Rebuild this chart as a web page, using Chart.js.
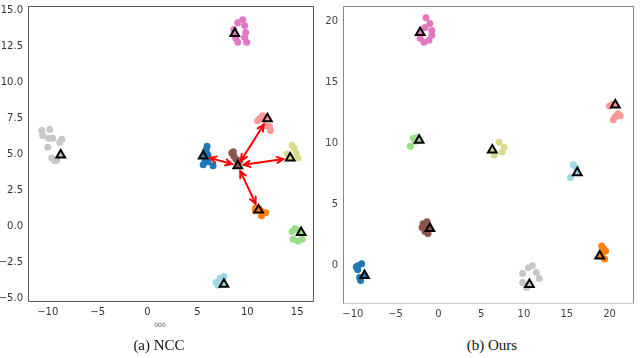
<!DOCTYPE html>
<html>
<head>
<meta charset="utf-8">
<script src="https://cdn.jsdelivr.net/npm/chart.js@4.4.0/dist/chart.umd.min.js"></script>
<style>
  html, body { margin: 0; padding: 0; background: #fff; overflow: hidden; }
  body { width: 640px; height: 358px; position: relative; }
  canvas { position: absolute; top: 0; }
  #nccChart { left: 0; }
  #oursChart { left: 320px; }
  .caption { position: absolute; top: 337px; line-height: 17px; font-family: "Liberation Serif", "Times New Roman", serif; font-size: 15px; color: #111; transform: translateX(-50%); white-space: nowrap; }
  .xname { position: absolute; top: 321px; left: 160px; transform: translateX(-50%); font-family: "DejaVu Sans", sans-serif; font-size: 6px; color: #555; }
</style>
</head>
<body>
<canvas id="nccChart" width="320" height="322"></canvas>
<canvas id="oursChart" width="320" height="322"></canvas>
<div class="xname">000</div>
<div class="caption" style="left:159px">(a) NCC</div>
<div class="caption" style="left:492px">(b) Ours</div>
<script>
// clusters, same order in both panels
const clusterNames = ['blue', 'orange', 'green', 'brown', 'pink', 'gray', 'olive', 'cyan', 'salmon'];

// (a) NCC – embedded samples per class
const nccBlue = [[5.97, 5.58], [5.87, 5.31], [6.07, 4.97], [5.77, 4.56], [6.07, 4.49], [6.57, 4.22], [5.58, 4.28], [5.9, 5.1]];
const nccOrange = [[10.83, 1.28], [10.83, 1.08], [11.53, 1.01], [11.83, 0.94], [11.43, 0.74], [11.2, 1.2]];
const nccGreen = [[14.5, -0.36], [14.8, -0.15], [14.6, -0.9], [15.1, -1.04], [15.5, -0.9], [15.2, -0.3]];
const nccBrown = [[8.45, 5.1], [8.65, 4.9], [8.85, 4.69], [9.05, 4.49], [9.25, 4.56], [8.6, 5.2]];
const nccPink = [[9.05, 14.18], [9.54, 14.39], [9.74, 13.98], [9.84, 13.5], [9.74, 13.16], [9.94, 12.82], [8.85, 13.09], [9.05, 12.82], [8.65, 13.7]];
const nccGray = [[-10.6, 6.67], [-9.8, 6.74], [-10.5, 6.33], [-9.9, 6.13], [-9.5, 6.13], [-8.6, 6.06], [-8.8, 5.85], [-10.0, 5.51], [-9.6, 4.76], [-9.1, 4.62], [-9.3, 4.56]];
const nccOlive = [[14.5, 5.65], [14.7, 5.44], [14.9, 5.1], [15.1, 4.76], [14.0, 5.03]];
const nccCyan = [[6.87, -3.91], [7.26, -3.63], [7.66, -3.5], [7.06, -4.11]];
const nccSalmon = [[11.23, 7.49], [11.53, 7.7], [11.03, 7.35], [11.83, 7.01], [12.22, 6.95], [12.32, 6.67]];
const nccCenters = [[5.58, 4.9], [11.13, 1.14], [15.4, -0.43], [9.05, 4.22], [8.75, 13.43], [-8.7, 4.97], [14.3, 4.76], [7.66, -4.04], [12.02, 7.49]];
// arrows between prototypes (indices into nccCenters)
const nccArrowPairs = [[3, 0], [3, 1], [3, 6], [3, 8]];
const nccXTicks = [-10, -5, 0, 5, 10, 15];
const nccYTicks = [-5, -2.5, 0, 2.5, 5, 7.5, 10, 12.5, 15];

// (b) Ours
const oursBlue = [[-9.43, 0.0], [-8.97, 0.16], [-9.43, -0.32], [-9.2, -0.96], [-9.09, -1.2], [-9.6, -0.1]];
const oursOrange = [[19.08, 1.61], [19.53, 1.2], [19.42, 0.56], [19.19, 1.04], [19.3, 1.4]];
const oursGreen = [[-2.93, 10.44], [-3.27, 9.8], [-2.7, 10.2], [-2.5, 10.5]];
const oursBrown = [[-1.79, 3.45], [-1.56, 2.81], [-1.22, 2.65], [-1.9, 3.13], [-1.33, 3.61], [-1.6, 3.3]];
const oursPink = [[-1.56, 19.52], [-1.45, 20.32], [-1.0, 19.84], [-0.76, 19.28], [-0.76, 18.88], [-1.1, 18.47], [-1.68, 18.31], [-2.13, 18.63]];
const oursGray = [[10.98, 0.0], [10.52, -0.16], [11.44, -0.56], [11.78, -1.04], [9.84, -0.64], [9.84, -1.37], [10.3, -1.77]];
const oursOlive = [[7.1, 10.12], [7.67, 9.72], [7.45, 9.32], [6.53, 9.08]];
const oursCyan = [[15.77, 8.27], [16.1, 8.03], [15.43, 7.23]];
const oursSalmon = [[20.0, 13.09], [20.44, 13.25], [21.0, 12.45], [20.67, 12.21], [20.44, 11.97], [21.24, 12.29]];
const oursCenters = [[-8.63, -0.8], [18.85, 0.8], [-2.25, 10.28], [-0.99, 3.05], [-2.13, 19.12], [10.64, -1.53], [6.3, 9.48], [16.23, 7.63], [20.67, 13.17]];
const oursXTicks = [-10, -5, 0, 5, 10, 15, 20];
const oursYTicks = [0, 5, 10, 15, 20];

// tab20-ish palette
const palette = {
  blue: '#1f77b4', orange: '#ff7f0e', green: '#98df8a', brown: '#8c564b', pink: '#e377c2',
  gray: '#c7c7c7', olive: '#dbdb8d', cyan: '#9edae5', salmon: '#ff9896'
};

const toXY = pts => pts.map(([x, y]) => ({ x, y }));
// matplotlib style minus sign
const signed = (v, digits) => (v < 0 ? '\u2212' : '') + (digits ? Math.abs(v).toFixed(digits) : Math.abs(v));

function buildDatasets(groups, centers) {
  const sets = groups.map((pts, i) => ({
    data: toXY(pts),
    backgroundColor: palette[clusterNames[i]],
    pointRadius: 3.5,
    pointBorderWidth: 0,
    order: 2
  }));
  sets.push({
    data: toXY(centers),
    pointStyle: 'triangle',
    pointRadius: 5,
    pointBorderWidth: 2,
    pointBorderColor: '#000',
    pointBackgroundColor: clusterNames.map(n => palette[n]),
    order: 1
  });
  return sets;
}

// frame around the plot area
function framePlugin(colors) {
  return {
    id: 'frame',
    beforeDatasetsDraw(chart) {
      const { ctx, chartArea: a } = chart;
      const l = a.left - 0.5, r = a.right + 0.5, t = a.top - 0.5, b = a.bottom + 0.5;
      const side = (c, x1, y1, x2, y2) => {
        ctx.strokeStyle = c;
        ctx.beginPath(); ctx.moveTo(x1, y1); ctx.lineTo(x2, y2); ctx.stroke();
      };
      ctx.save();
      ctx.lineWidth = 1;
      side(colors.top, l, t, r, t);
      side(colors.right, r, t, r, b);
      side(colors.bottom, l, b, r, b);
      side(colors.left, l, t, l, b);
      ctx.restore();
    }
  };
}

// double headed arrows between prototypes
function arrowPlugin(centers, pairs) {
  return {
    id: 'arrows',
    afterDatasetsDraw(chart) {
      const { ctx, scales: { x, y } } = chart;
      ctx.save();
      ctx.strokeStyle = '#ff0000';
      ctx.lineWidth = 2;
      ctx.lineCap = 'round';
      pairs.forEach(([a, b]) => {
        let x1 = x.getPixelForValue(centers[a][0]), y1 = y.getPixelForValue(centers[a][1]);
        let x2 = x.getPixelForValue(centers[b][0]), y2 = y.getPixelForValue(centers[b][1]);
        const len = Math.hypot(x2 - x1, y2 - y1);
        const ux = (x2 - x1) / len, uy = (y2 - y1) / len;
        x1 += ux * 6; y1 += uy * 6;
        x2 -= ux * 7; y2 -= uy * 7;
        ctx.beginPath(); ctx.moveTo(x1, y1); ctx.lineTo(x2, y2); ctx.stroke();
        const head = (hx, hy, dx, dy) => {
          const ang = Math.atan2(dy, dx), h = 7, spread = 0.45;
          ctx.beginPath();
          ctx.moveTo(hx - h * Math.cos(ang - spread), hy - h * Math.sin(ang - spread));
          ctx.lineTo(hx, hy);
          ctx.lineTo(hx - h * Math.cos(ang + spread), hy - h * Math.sin(ang + spread));
          ctx.stroke();
        };
        head(x2, y2, ux, uy);
        head(x1, y1, -ux, -uy);
      });
      ctx.restore();
    }
  };
}

function makeScales(cfg) {
  const common = (ticks, fmt, pad) => ({
    type: 'linear',
    grid: { display: false, drawTicks: false },
    border: { display: false },
    afterBuildTicks: s => { s.ticks = ticks.map(v => ({ value: v })); },
    ticks: {
      autoSkip: false, maxRotation: 0, padding: pad,
      color: cfg.tickColor,
      font: { family: 'DejaVu Sans', size: cfg.fontSize },
      callback: fmt
    }
  });
  const xs = common(cfg.xTicks, v => signed(v), cfg.xPad);
  xs.min = cfg.xMin; xs.max = cfg.xMax;
  xs.afterFit = s => { s.height = cfg.xHeight; s.paddingLeft = 0; s.paddingRight = 0; };
  const ys = common(cfg.yTicks, v => signed(v, cfg.yDigits), cfg.yPad);
  ys.min = cfg.yMin; ys.max = cfg.yMax;
  ys.afterFit = s => { s.width = cfg.yWidth; s.paddingTop = 0; s.paddingBottom = 0; };
  return { x: xs, y: ys };
}

document.addEventListener('DOMContentLoaded', () => {
  new Chart(document.getElementById('nccChart'), {
    type: 'scatter',
    data: {
      datasets: buildDatasets(
        [nccBlue, nccOrange, nccGreen, nccBrown, nccPink, nccGray, nccOlive, nccCyan, nccSalmon],
        nccCenters)
    },
    options: {
      responsive: false,
      animation: false,
      layout: { padding: { top: 1, right: 4, left: 0, bottom: 0 } },
      scales: makeScales({
        xTicks: nccXTicks, yTicks: nccYTicks,
        xMin: -11.88, xMax: 16.59, yMin: -5.2, yMax: 15.27,
        xHeight: 21, yWidth: 29, xPad: 5, yPad: 6,
        tickColor: '#333', fontSize: 10, yDigits: 1
      }),
      plugins: { legend: { display: false }, tooltip: { enabled: false } }
    },
    plugins: [
      framePlugin({ top: '#555', right: '#555', bottom: '#555', left: '#555' }),
      arrowPlugin(nccCenters, nccArrowPairs)
    ]
  });

  new Chart(document.getElementById('oursChart'), {
    type: 'scatter',
    data: {
      datasets: buildDatasets(
        [oursBlue, oursOrange, oursGreen, oursBrown, oursPink, oursGray, oursOlive, oursCyan, oursSalmon],
        oursCenters)
    },
    options: {
      responsive: false,
      animation: false,
      layout: { padding: { top: 1, right: 0, left: 0, bottom: 0 } },
      scales: makeScales({
        xTicks: oursXTicks, yTicks: oursYTicks,
        xMin: -11.03, xMax: 22.74, yMin: -3.05, yMax: 21.2,
        xHeight: 19, yWidth: 24, xPad: 5, yPad: 6,
        tickColor: '#444', fontSize: 10, yDigits: 0
      }),
      plugins: { legend: { display: false }, tooltip: { enabled: false } }
    },
    plugins: [
      framePlugin({ top: '#888', right: '#888', bottom: '#ccc', left: '#888' })
    ]
  });
});
</script>
</body>
</html>
